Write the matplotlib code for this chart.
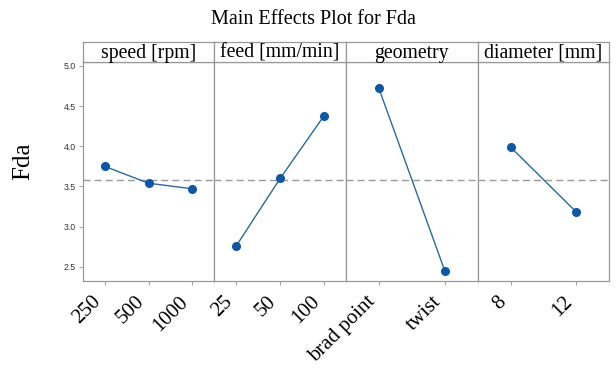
import matplotlib.pyplot as plt

factors = ['speed [rpm]', 'feed [mm/min]', 'geometry', 'diameter [mm]']
levels = [['250', '500', '1000'], ['25', '50', '100'], ['brad point', 'twist'], ['8', '12']]
means = [[3.75, 3.54, 3.47], [2.76, 3.60, 4.38], [4.72, 2.45], [3.99, 3.18]]
grand_mean = 3.58

serif = ['Liberation Serif', 'DejaVu Serif']
sans = ['Liberation Sans', 'DejaVu Sans']

fig = plt.figure(figsize=(6.16, 3.69), dpi=100)

W, H = 616, 369
left, right, top, bottom, strip_top = 82.7, 609.3, 62.3, 281.3, 42.3
pw = (right - left) / len(factors)

for i in range(len(factors)):
    x0 = left + i * pw
    ax = fig.add_axes([x0 / W, (H - bottom) / H, pw / W, (bottom - top) / H])
    xs = list(range(1, len(levels[i]) + 1))
    ax.axhline(grand_mean, color='#999999', ls=(0, (5, 3)), lw=1, zorder=1)
    ax.plot(xs, means[i], color='#2d6a96', lw=1, zorder=2)
    ax.plot(xs, means[i], 'o', color='#0b58a6', ms=5.5, zorder=3)
    ax.set_xlim(0.5, len(xs) + 0.5)
    ax.set_ylim(2.318, 5.046)
    ax.set_xticks(xs)
    ax.set_xticklabels(levels[i], rotation=45, ha='right', va='top',
                       family=serif, fontsize=15)
    ax.tick_params(axis='x', length=3, color='#aaaaaa', pad=5)
    for s in ax.spines.values():
        s.set_color('#999999')
        s.set_linewidth(0.9)
    if i == 0:
        ax.set_yticks([2.5, 3.0, 3.5, 4.0, 4.5, 5.0])
        ax.set_yticklabels(['2.5', '3.0', '3.5', '4.0', '4.5', '5.0'], family=sans,
                           fontsize=6.3, color='#333333')
        ax.tick_params(axis='y', length=3, color='#aaaaaa', pad=2)
        ax.set_ylabel('Fda', family=serif, fontsize=18)
        ax.yaxis.set_label_coords(-0.37, 0.547)
    else:
        ax.set_yticks([])

    hx = fig.add_axes([x0 / W, (H - top) / H, pw / W, (top - strip_top) / H])
    hx.set_xticks([])
    hx.set_yticks([])
    for s in hx.spines.values():
        s.set_color('#999999')
        s.set_linewidth(0.9)
    hx.text(0.5, 0.45, factors[i], ha='center', va='center', family=serif,
            fontsize=14.2, transform=hx.transAxes)

fig.text(313 / W, 1 - 20 / H, 'Main Effects Plot for Fda', ha='center', va='center',
         family=serif, fontsize=14.5)

fig.savefig('out.png', dpi=100)
